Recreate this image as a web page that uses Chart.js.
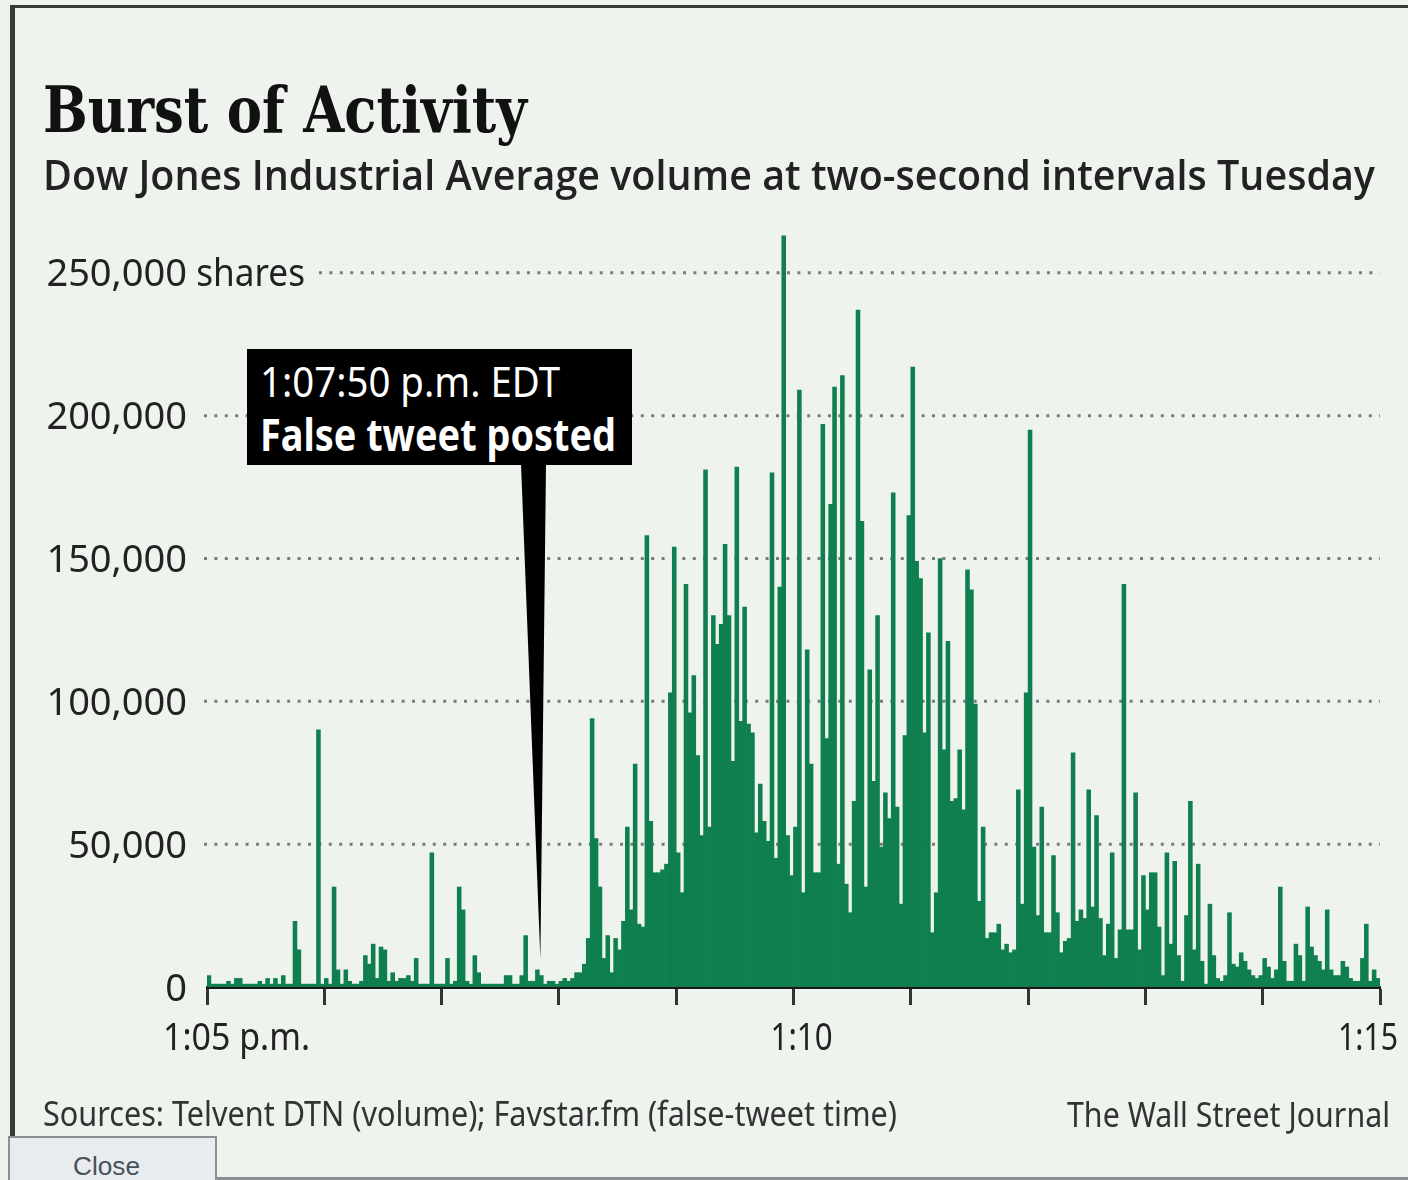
<!DOCTYPE html>
<html>
<head>
<meta charset="utf-8">
<title>Burst of Activity</title>
<script src="https://cdn.jsdelivr.net/npm/chart.js@4.4.1/dist/chart.umd.min.js"></script>
<style>
  html, body { margin: 0; padding: 0; }
  body {
    width: 1408px; height: 1180px; position: relative; overflow: hidden;
    background: #eef3ee; font-family: 'Noto Sans', sans-serif; color: #1e1e1e;
  }
  canvas { position: absolute; left: 0; top: 0; }
  .frame { position: absolute; background: #3a3a3a; }
  .txt { position: absolute; white-space: nowrap; line-height: 1; display: inline-block; transform-origin: 0 0; }
  #callout { position: absolute; left: 247px; top: 349px; width: 385px; height: 116px; background: #000; }
  #closeTab {
    position: absolute; left: 8px; top: 1136px; width: 209px; height: 60px; box-sizing: border-box;
    border: 2px solid #8c9096; background: #e8ecf0;
  }
</style>
</head>
<body>
<div class="frame" style="left:10px; top:5px; width:1398px; height:3px;"></div>
<div class="frame" style="left:10px; top:5px; width:5px; height:1132px;"></div>
<div class="frame" style="left:215px; top:1177px; width:1193px; height:3px; background:#8a8d90;"></div>

<canvas id="myChart" width="1408" height="1180"></canvas>

<div class="txt" data-w="484" style="left:43px; top:72px; font:bold 64px 'DejaVu Serif'; color:#111;">Burst of Activity</div>
<div class="txt" data-w="1332" style="left:43px; top:145px; font:600 42px 'Open Sans'; color:#222;">Dow Jones Industrial Average volume at two-second intervals Tuesday</div>

<div id="callout">
  <div class="txt" data-w="300" style="left:13px; top:3px; font:42px 'Noto Sans'; color:#fff;">1:07:50 p.m. EDT</div>
  <div class="txt" data-w="356" style="left:13px; top:55px; font:bold 44px 'Noto Sans'; color:#fff;">False tweet posted</div>
</div>

<div class="txt" data-w="854" style="left:43px; top:1089px; font:35px 'Noto Sans'; color:#333;">Sources: Telvent DTN (volume); Favstar.fm (false-tweet time)</div>
<div class="txt" data-w="323" style="left:1067px; top:1090px; font:35px 'Noto Sans'; color:#333;">The Wall Street Journal</div>

<div id="closeTab">
  <div class="txt" data-w="67" style="left:63px; top:13px; font:26px 'Liberation Sans'; color:#4a5058;">Close</div>
</div>

<script>
'use strict';

// volume, thousands of shares per two-second interval, one list per minute
let min05 = [4, 1, 1, 1, 1, 2, 1, 3, 3, 1, 1, 1, 1, 2, 1, 3, 1, 3, 1, 4, 1, 1, 23, 13, 1, 1, 1, 1, 90, 1];
let min06 = [3, 1, 35, 6, 1, 6, 2, 1, 1, 2, 11, 8, 15, 3, 14, 13, 2, 5, 2, 3, 3, 4, 2, 10, 1, 1, 1, 47, 1, 1];
let min07 = [1, 10, 1, 2, 35, 27, 2, 1, 11, 5, 1, 1, 1, 1, 1, 1, 4, 4, 1, 1, 4, 18, 2, 2, 6, 4, 1, 2, 2, 1];
let min08 = [2, 3, 2, 3, 5, 5, 8, 17, 94, 52, 35, 10, 18, 5, 17, 13, 23, 56, 27, 78, 22, 21, 158, 58, 40, 40, 41, 43, 103, 154];
let min09 = [47, 33, 141, 96, 109, 81, 53, 181, 56, 130, 120, 127, 155, 130, 79, 182, 93, 133, 92, 89, 54, 71, 58, 51, 180, 45, 140, 263, 53, 39];
let min10 = [56, 209, 33, 118, 78, 40, 40, 197, 87, 169, 210, 43, 214, 36, 26, 65, 237, 163, 35, 111, 72, 130, 49, 68, 59, 173, 63, 29, 88, 165];
let min11 = [217, 149, 143, 89, 124, 19, 33, 150, 83, 121, 65, 66, 83, 62, 146, 139, 99, 30, 56, 17, 19, 19, 22, 13, 15, 12, 13, 69, 29, 103];
let min12 = [195, 49, 25, 63, 19, 19, 46, 26, 12, 16, 17, 82, 23, 27, 24, 69, 28, 60, 24, 11, 22, 47, 10, 20, 141, 20, 20, 68, 13, 39];
let min13 = [27, 40, 40, 21, 4, 47, 15, 44, 11, 2, 25, 65, 13, 43, 9, 1, 29, 11, 3, 2, 4, 26, 8, 7, 12, 9, 6, 4, 3, 4];
let min14 = [10, 7, 3, 6, 35, 9, 2, 2, 15, 11, 2, 28, 14, 11, 9, 6, 27, 6, 4, 4, 9, 7, 3, 2, 2, 10, 22, 2, 6, 3];

// axis ticks
let minuteTicks = [0, 30, 60, 90, 120, 150, 180, 210, 240, 270, 300];
let xTickLabels = ['1:05 p.m.', '', '', '', '', '1:10', '', '', '', '', '1:15'];
let yTickValues = [0, 50, 100, 150, 200, 250];
let yTickLabels = ['0', '50,000', '100,000', '150,000', '200,000', '250,000'];
let yUnitLabel = ' shares';
let tweetStep = 85; // 1:07:50 p.m. = 85 two-second steps after 1:05

let volume = [].concat(min05, min06, min07, min08, min09, min10, min11, min12, min13, min14);

// ** FUNCTIONS **

function fitHtmlText(){
  document.querySelectorAll('[data-w]').forEach(el => {
    el.style.transform = '';
    let w = el.getBoundingClientRect().width;
    el.style.transform = `scaleX(${Number(el.dataset.w) / w})`;
  });
}

function fitCanvasText(ctx, text, x, y, width){
  let natural = ctx.measureText(text).width;
  ctx.save();
  ctx.translate(x, y);
  ctx.scale(width / natural, 1);
  ctx.textAlign = 'left';
  ctx.fillText(text, 0, 0);
  ctx.restore();
}

// dotted grid, y labels, x labels and the callout pointer
let wsjLook = {
  id: 'wsjLook',
  beforeDatasetsDraw(chart){
    let {ctx, chartArea, scales: {y}} = chart;
    ctx.save();
    ctx.font = '38px "Noto Sans"';
    ctx.strokeStyle = '#7c7c7c';
    ctx.lineWidth = 3;
    ctx.setLineDash([3, 7.4]);
    let numRight = chartArea.left - 20;
    for (let i in yTickValues){
      if (yTickValues[i] === 0) continue;
      let py = y.getPixelForValue(yTickValues[i]);
      let startX = numRight + 17;
      if (i == yTickValues.length - 1){
        startX = numRight + 118 + 14;
      }
      ctx.beginPath();
      ctx.moveTo(startX, py);
      ctx.lineTo(chartArea.right, py);
      ctx.stroke();
    }
    ctx.restore();
  },
  afterDatasetsDraw(chart){
    let {ctx, scales: {x, y}} = chart;
    let tipX = x.getPixelForValue(tweetStep);
    let tipY = y.getPixelForValue(10);
    ctx.save();
    ctx.fillStyle = '#000';
    ctx.beginPath();
    ctx.moveTo(521, 464);
    ctx.lineTo(546, 464);
    ctx.lineTo(tipX + 1, tipY);
    ctx.closePath();
    ctx.fill();
    ctx.restore();
  },
  afterDraw(chart){
    let {ctx, chartArea, scales: {x, y}} = chart;
    ctx.save();
    ctx.fillStyle = '#222';
    ctx.font = '38px "Noto Sans"';
    ctx.textBaseline = 'alphabetic';
    let numRight = chartArea.left - 20;
    for (let i in yTickValues){
      let py = y.getPixelForValue(yTickValues[i]) + 13.5;
      ctx.textAlign = 'right';
      ctx.fillText(yTickLabels[i], numRight, py);
      if (i == yTickValues.length - 1){
        fitCanvasText(ctx, yUnitLabel, numRight, py, 118);
      }
    }
    // x labels: first sits right of its tick, last left of it
    let xPlace = {0: [-44, 147], 150: [-23, 62], 300: [-42, 60]};
    let baseY = chartArea.bottom + 63;
    for (let i in minuteTicks){
      if (!xTickLabels[i]) continue;
      let p = xPlace[minuteTicks[i]];
      fitCanvasText(ctx, xTickLabels[i], x.getPixelForValue(minuteTicks[i]) + p[0], baseY, p[1]);
    }
    ctx.restore();
  }
};

function renderChart(){
  let chartObj = {
    type: 'bar',
    data: {
      datasets: [{
        label: 'Volume',
        data: volume.map((v, i) => ({x: i + 0.5, y: v})),
        backgroundColor: '#0f7f4f',
        borderWidth: 0,
        barPercentage: 1,
        categoryPercentage: 1
      }]
    },
    options: {
      responsive: false,
      animation: false,
      devicePixelRatio: 1,
      layout: {
        padding: {left: 207, right: 28, top: 230, bottom: 0}
      },
      plugins: {
        legend: {display: false},
        tooltip: {enabled: false}
      },
      scales: {
        x: {
          type: 'linear',
          min: 0,
          max: 300,
          offset: false,
          afterBuildTicks: scale => { scale.ticks = minuteTicks.map(v => ({value: v})); },
          afterFit: scale => { scale.height = 193; },
          grid: {
            display: true,
            offset: false,
            drawOnChartArea: false,
            drawTicks: true,
            tickLength: 18,
            tickWidth: 3,
            tickColor: '#333'
          },
          border: {display: true, width: 3, color: '#1a1a1a'},
          ticks: {display: false}
        },
        y: {
          min: 0,
          max: 265,
          afterBuildTicks: scale => { scale.ticks = yTickValues.map(v => ({value: v})); },
          afterFit: scale => { scale.width = 0; },
          grid: {display: false},
          border: {display: false},
          ticks: {display: false}
        }
      }
    },
    plugins: [wsjLook]
  };
  new Chart(document.getElementById('myChart'), chartObj);
}

// executable code
fitHtmlText();
renderChart();
document.fonts.ready.then(fitHtmlText);
</script>
</body>
</html>
